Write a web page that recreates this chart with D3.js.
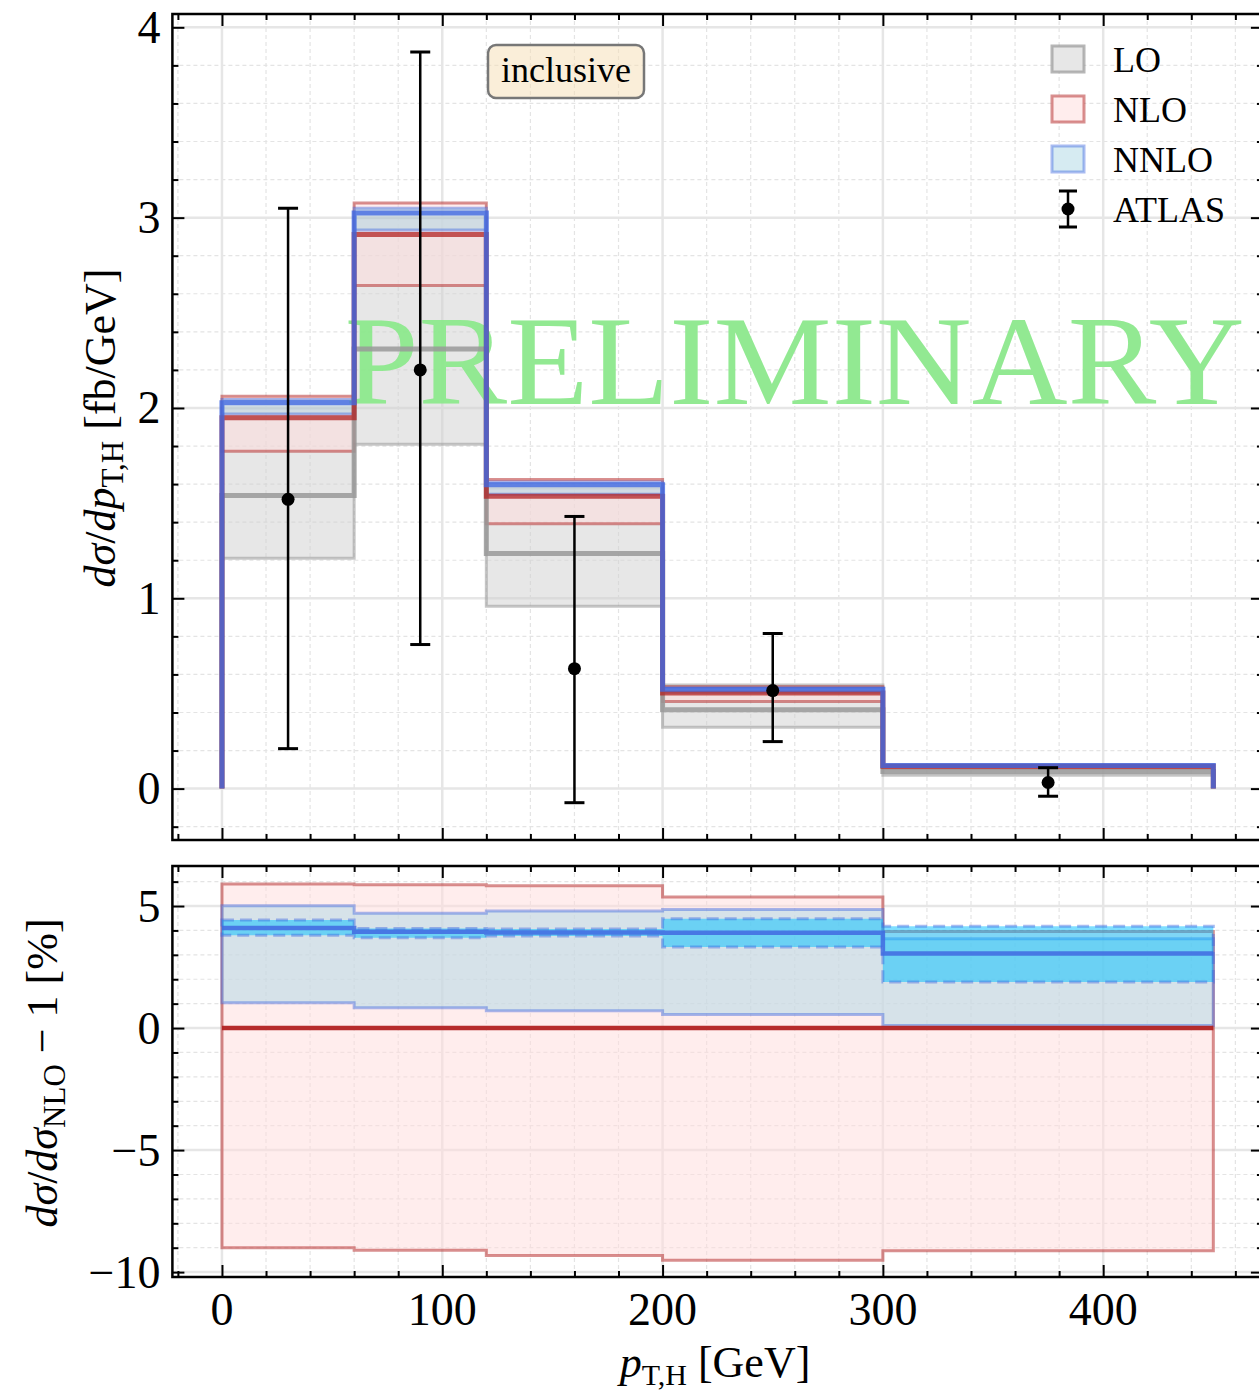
<!DOCTYPE html>
<html>
<head>
<meta charset="utf-8">
<script src="https://cdn.jsdelivr.net/npm/d3@7"></script>
<style>
  body { margin: 0; background: #fff; }
  svg { display: block; font-family: "Liberation Serif", "DejaVu Serif", serif; }
</style>
</head>
<body>
<svg id="chart" width="1259" height="1392"></svg>
<script>
// bin edges in GeV
const binEdges = [0, 60, 120, 200, 300, 450];

// top panel: dsigma/dpT [fb/GeV]
const loCentral = [1.54, 2.31, 1.235, 0.415, 0.09];
const loLow     = [1.21, 1.81, 0.958, 0.322, 0.07];
const loHigh    = [2.00, 3.00, 1.58, 0.545, 0.115];
const nloCentral = [1.948, 2.911, 1.536, 0.503, 0.118];
const nloLow     = [1.772, 2.643, 1.392, 0.458, 0.107];
const nloHigh    = [2.062, 3.077, 1.624, 0.535, 0.123];
const nnloCentral = [2.028, 3.025, 1.597, 0.522, 0.122];
const nnloLow     = [1.968, 2.935, 1.547, 0.506, 0.118];
const nnloHigh    = [2.045, 3.050, 1.611, 0.527, 0.123];

// ATLAS data
const atlasX    = [30, 90, 160, 250, 375];
const atlasY    = [1.52, 2.20, 0.63, 0.515, 0.032];
const atlasUp   = [3.05, 3.87, 1.43, 0.815, 0.11];
const atlasDown = [0.21, 0.757, -0.074, 0.247, -0.04];

// bottom panel: ratio to NLO - 1 [%]
const rNloHigh  = [5.90, 5.87, 5.83, 5.37, 3.96];
const rNloLow   = [-9.00, -9.10, -9.32, -9.51, -9.12];
const rNnlo     = [4.10, 3.95, 3.92, 3.91, 3.05];
const rNnloHigh = [5.01, 4.70, 4.80, 4.86, 3.66];
const rNnloLow  = [1.04, 0.83, 0.71, 0.56, 0.10];
const rStatHigh = [4.43, 4.08, 4.06, 4.48, 4.17];
const rStatLow  = [3.80, 3.70, 3.77, 3.32, 1.89];

const xTicks = [0, 100, 200, 300, 400];
const topYTicks = [0, 1, 2, 3, 4];
const botYTicks = [-10, -5, 0, 5];

const legendItems = [
    {label: "LO", fill: "#d0d0d0", fillOp: 0.5, stroke: "#999", strokeOp: 0.7},
    {label: "NLO", fill: "#ffdcdc", fillOp: 0.5, stroke: "#b22222", strokeOp: 0.5},
    {label: "NNLO", fill: "#add8e6", fillOp: 0.5, stroke: "#4169e1", strokeOp: 0.45}
];

const svg = d3.select("#chart");

const x = d3.scaleLinear().domain([-22.5, 472.5]).range([172.4, 1262.9]);
const yTop = d3.scaleLinear().domain([-0.27, 4.07]).range([840, 14]);
const yBot = d3.scaleLinear().domain([-10.2, 6.64]).range([1277, 866]);

// step-shaped data: [x, value] pairs with the last value repeated at the last edge
function stepData(vals) {
    const d = vals.map((v, i) => [binEdges[i], v]);
    d.push([binEdges[binEdges.length - 1], vals[vals.length - 1]]);
    return d;
}

function bandPath(y, lo, hi) {
    const lower = stepData(lo), upper = stepData(hi);
    return d3.area()
        .curve(d3.curveStepAfter)
        .x(d => x(d[0]))
        .y0((d, i) => y(lower[i][1]))
        .y1(d => y(d[1]))(upper);
}

function stepLine(y, vals, toZero) {
    const pts = [];
    if (toZero) pts.push([binEdges[0], 0]);
    vals.forEach((v, i) => {
        pts.push([binEdges[i], v]);
        pts.push([binEdges[i + 1], v]);
    });
    if (toZero) pts.push([binEdges[binEdges.length - 1], 0]);
    return d3.line().x(d => x(d[0])).y(d => y(d[1]))(pts);
}

function drawPanel(y, yTicksMajor, minorStep, id) {
    const [y0, y1] = y.domain();
    const g = svg.append("g");
    const left = x.range()[0], right = x.range()[1];
    const top = y.range()[1], bottom = y.range()[0];

    svg.append("clipPath").attr("id", id)
        .append("rect").attr("x", left).attr("y", top)
        .attr("width", right - left).attr("height", bottom - top);

    const minorX = d3.range(-20, 472, 20).filter(v => v % 100 !== 0);
    const minorY = d3.range(Math.ceil(y0 / minorStep) * minorStep, y1, minorStep)
        .map(v => +v.toFixed(3))
        .filter(v => !yTicksMajor.includes(v));

    const grid = g.append("g").attr("clip-path", `url(#${id})`);
    grid.selectAll(".mx").data(minorX).enter().append("line")
        .attr("x1", d => x(d)).attr("x2", d => x(d)).attr("y1", top).attr("y2", bottom)
        .attr("stroke", "#e4e4e4").attr("stroke-width", 1.2).attr("stroke-dasharray", "4,3");
    grid.selectAll(".my").data(minorY).enter().append("line")
        .attr("y1", d => y(d)).attr("y2", d => y(d)).attr("x1", left).attr("x2", right)
        .attr("stroke", "#e4e4e4").attr("stroke-width", 1.2).attr("stroke-dasharray", "4,3");
    grid.selectAll(".Mx").data(xTicks).enter().append("line")
        .attr("x1", d => x(d)).attr("x2", d => x(d)).attr("y1", top).attr("y2", bottom)
        .attr("stroke", "#e6e6e6").attr("stroke-width", 2.5);
    grid.selectAll(".My").data(yTicksMajor).enter().append("line")
        .attr("y1", d => y(d)).attr("y2", d => y(d)).attr("x1", left).attr("x2", right)
        .attr("stroke", "#e6e6e6").attr("stroke-width", 2.5);

    const plot = svg.append("g").attr("clip-path", `url(#${id})`);

    // frame and ticks, drawn later on top
    const frame = () => {
        const f = svg.append("g");
        const axes = [
            d3.axisBottom(x).tickValues(xTicks).tickSize(-12).tickFormat(""),
            d3.axisBottom(x).tickValues(minorX).tickSize(-6).tickFormat("")
        ];
        axes.forEach(a => {
            f.append("g").attr("transform", `translate(0,${bottom})`).call(a);
            f.append("g").attr("transform", `translate(0,${top})`).call(a.tickSize(-a.tickSize()));
        });
        const ya = [
            d3.axisLeft(y).tickValues(yTicksMajor).tickSize(-12).tickFormat(""),
            d3.axisLeft(y).tickValues(minorY).tickSize(-6).tickFormat("")
        ];
        ya.forEach(a => {
            f.append("g").attr("transform", `translate(${left},0)`).call(a);
            f.append("g").attr("transform", `translate(${right},0)`).call(a.tickSize(-a.tickSize()));
        });
        f.selectAll(".domain").remove();
        f.selectAll(".tick line").attr("stroke", "#000").attr("stroke-width", 2);
        f.append("rect").attr("x", left).attr("y", top)
            .attr("width", right - left).attr("height", bottom - top)
            .attr("fill", "none").attr("stroke", "#000").attr("stroke-width", 2.5);

        f.selectAll(".ylab").data(yTicksMajor).enter().append("text")
            .attr("x", left - 12).attr("y", d => y(d))
            .attr("text-anchor", "end").attr("dominant-baseline", "central")
            .attr("font-size", 46)
            .text(d => d < 0 ? "\u2212" + Math.abs(d) : d);
    };
    return {plot, frame};
}

// ---------- top panel ----------
const topP = drawPanel(yTop, topYTicks, 0.2, "clipTop");
const tp = topP.plot;

tp.append("path").attr("d", bandPath(yTop, loLow, loHigh))
    .attr("fill", "#d0d0d0").attr("fill-opacity", 0.5)
    .attr("stroke", "#999").attr("stroke-opacity", 0.55).attr("stroke-width", 3);
tp.append("path").attr("d", bandPath(yTop, nloLow, nloHigh))
    .attr("fill", "#ffdcdc").attr("fill-opacity", 0.5)
    .attr("stroke", "#b22222").attr("stroke-opacity", 0.5).attr("stroke-width", 3);
tp.append("path").attr("d", bandPath(yTop, nnloLow, nnloHigh))
    .attr("fill", "#add8e6").attr("fill-opacity", 0.5)
    .attr("stroke", "#4169e1").attr("stroke-opacity", 0.45).attr("stroke-width", 3);

// watermark
tp.append("text")
    .attr("x", x(260)).attr("y", yTop(2.02))
    .attr("text-anchor", "middle")
    .attr("font-size", 128)
    .attr("textLength", 900).attr("lengthAdjust", "spacingAndGlyphs")
    .attr("fill", "#8ee88e").attr("fill-opacity", 0.97)
    .text("PRELIMINARY");

tp.append("path").attr("d", stepLine(yTop, loCentral, true))
    .attr("fill", "none").attr("stroke", "#999").attr("stroke-opacity", 0.85).attr("stroke-width", 5);
tp.append("path").attr("d", stepLine(yTop, nloCentral, true))
    .attr("fill", "none").attr("stroke", "#b22222").attr("stroke-opacity", 0.75).attr("stroke-width", 5);
tp.append("path").attr("d", stepLine(yTop, nnloCentral, true))
    .attr("fill", "none").attr("stroke", "#4169e1").attr("stroke-opacity", 0.8).attr("stroke-width", 5);

// ATLAS error bars
const eb = tp.selectAll(".atlas").data(atlasX).enter().append("g");
eb.append("line")
    .attr("x1", d => x(d)).attr("x2", d => x(d))
    .attr("y1", (d, i) => yTop(atlasDown[i])).attr("y2", (d, i) => yTop(atlasUp[i]))
    .attr("stroke", "#000").attr("stroke-width", 2.5);
[atlasDown, atlasUp].forEach(arr => {
    eb.append("line")
        .attr("x1", d => x(d) - 10).attr("x2", d => x(d) + 10)
        .attr("y1", (d, i) => yTop(arr[i])).attr("y2", (d, i) => yTop(arr[i]))
        .attr("stroke", "#000").attr("stroke-width", 3);
});
eb.append("circle")
    .attr("cx", d => x(d)).attr("cy", (d, i) => yTop(atlasY[i])).attr("r", 6.5)
    .attr("fill", "#000");

topP.frame();

// "inclusive" box
svg.append("rect").attr("x", 488).attr("y", 45).attr("width", 156).attr("height", 53)
    .attr("rx", 8).attr("fill", "#f5deb3").attr("fill-opacity", 0.5)
    .attr("stroke", "#777").attr("stroke-width", 2.5);
svg.append("text").attr("x", 566).attr("y", 82).attr("text-anchor", "middle")
    .attr("font-size", 36).text("inclusive");

// legend
const leg = svg.append("g");
legendItems.forEach((it, i) => {
    const cy = 59 + i * 50;
    leg.append("rect").attr("x", 1052).attr("y", cy - 13).attr("width", 32).attr("height", 26)
        .attr("fill", "#fff");
    leg.append("rect").attr("x", 1052).attr("y", cy - 13).attr("width", 32).attr("height", 26)
        .attr("fill", it.fill).attr("fill-opacity", it.fillOp)
        .attr("stroke", it.stroke).attr("stroke-opacity", it.strokeOp).attr("stroke-width", 3);
    leg.append("text").attr("x", 1113).attr("y", cy + 13).attr("font-size", 36).text(it.label);
});
leg.append("line").attr("x1", 1068).attr("x2", 1068).attr("y1", 191).attr("y2", 227)
    .attr("stroke", "#000").attr("stroke-width", 2.5);
[191, 227].forEach(yy => leg.append("line").attr("x1", 1059).attr("x2", 1077)
    .attr("y1", yy).attr("y2", yy).attr("stroke", "#000").attr("stroke-width", 3));
leg.append("circle").attr("cx", 1068).attr("cy", 209).attr("r", 6.5).attr("fill", "#000");
leg.append("text").attr("x", 1113).attr("y", 222).attr("font-size", 36).text("ATLAS");

// ---------- bottom panel ----------
const botP = drawPanel(yBot, botYTicks, 1, "clipBot");
const bp = botP.plot;

bp.append("path").attr("d", bandPath(yBot, rNloLow, rNloHigh))
    .attr("fill", "#ffdcdc").attr("fill-opacity", 0.5)
    .attr("stroke", "#b22222").attr("stroke-opacity", 0.5).attr("stroke-width", 3);
bp.append("path").attr("d", bandPath(yBot, rNnloLow, rNnloHigh))
    .attr("fill", "#add8e6").attr("fill-opacity", 0.5)
    .attr("stroke", "#4169e1").attr("stroke-opacity", 0.45).attr("stroke-width", 3);
bp.append("path").attr("d", bandPath(yBot, rStatLow, rStatHigh))
    .attr("fill", "#00bfff").attr("fill-opacity", 0.5)
    .attr("stroke", "#4169e1").attr("stroke-opacity", 0.45).attr("stroke-width", 3)
    .attr("stroke-dasharray", "12,6");
bp.append("line").attr("x1", x(0)).attr("x2", x(450)).attr("y1", yBot(0)).attr("y2", yBot(0))
    .attr("stroke", "#b22222").attr("stroke-opacity", 0.95).attr("stroke-width", 4.5);
bp.append("path").attr("d", stepLine(yBot, rNnlo, false))
    .attr("fill", "none").attr("stroke", "#4169e1").attr("stroke-opacity", 0.85).attr("stroke-width", 4.5);

botP.frame();

// x tick labels
svg.selectAll(".xlab").data(xTicks).enter().append("text")
    .attr("x", d => x(d)).attr("y", 1325).attr("text-anchor", "middle")
    .attr("font-size", 46).text(d => d);

// axis titles
const xt = svg.append("text").attr("x", 715).attr("y", 1377).attr("text-anchor", "middle")
    .attr("font-size", 44);
xt.append("tspan").attr("font-style", "italic").text("p");
xt.append("tspan").attr("font-size", 30).attr("dy", 8).text("T,H");
xt.append("tspan").attr("dy", -8).text(" [GeV]");

const yt = svg.append("text").attr("transform", "translate(115,428) rotate(-90)")
    .attr("text-anchor", "middle").attr("font-size", 44);
yt.append("tspan").attr("font-style", "italic").text("d\u03c3");
yt.append("tspan").text("/");
yt.append("tspan").attr("font-style", "italic").text("dp");
yt.append("tspan").attr("font-size", 31).attr("dy", 8).text("T,H");
yt.append("tspan").attr("dy", -8).text(" [fb/GeV]");

const yb = svg.append("text").attr("transform", "translate(57,1073) rotate(-90)")
    .attr("text-anchor", "middle").attr("font-size", 44);
yb.append("tspan").attr("font-style", "italic").text("d\u03c3");
yb.append("tspan").text("/");
yb.append("tspan").attr("font-style", "italic").text("d\u03c3");
yb.append("tspan").attr("font-size", 31).attr("dy", 8).text("NLO");
yb.append("tspan").attr("dy", -8).text(" \u2212 1 [%]");
</script>
</body>
</html>
